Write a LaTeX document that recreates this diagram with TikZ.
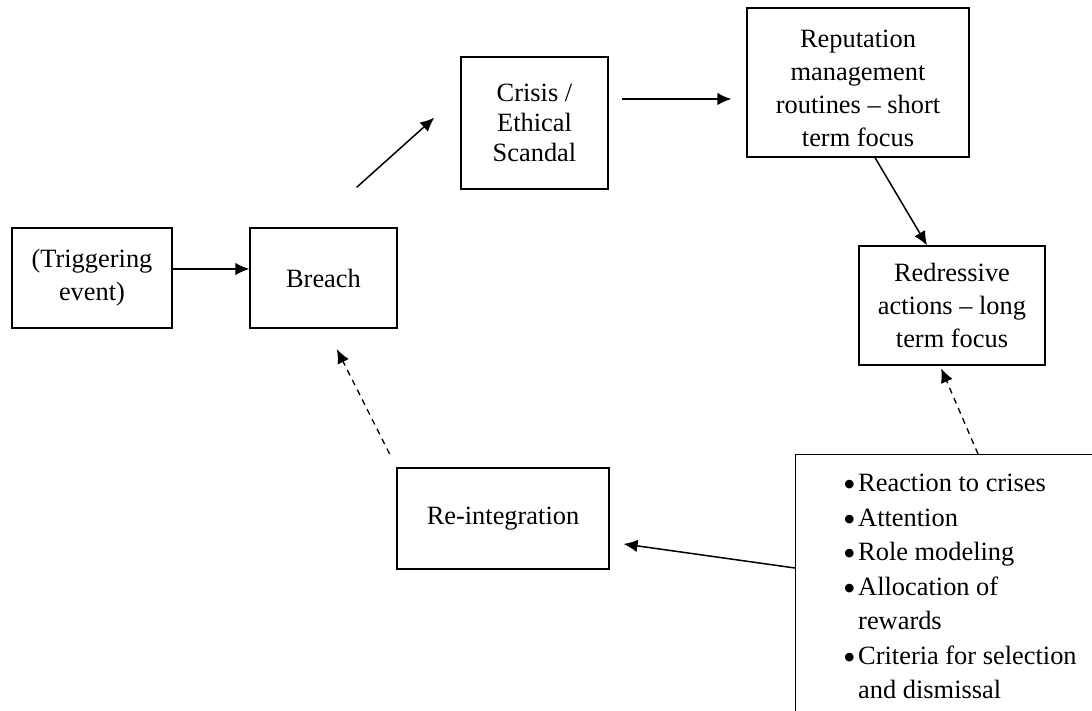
\documentclass[tikz,border=0pt]{standalone}
\usepackage{fontspec}
\setmainfont{Liberation Serif}
\usetikzlibrary{arrows.meta}
\newcommand{\bulitem}{\makebox[15pt][l]{\raisebox{-5pt}{\fontsize{36}{36}\selectfont\textbullet}}}
\begin{document}
\begin{tikzpicture}[x=1pt,y=-1pt,
  box/.style={draw, line width=1.3pt, align=center, inner sep=0pt,
    font=\fontsize{26.4}{33}\selectfont},
  arr/.style={line width=1.5pt, -{Latex[length=14pt,width=12.5pt]}},
  darr/.style={arr, line width=1.3pt, dash pattern=on 6pt off 5pt}]
\useasboundingbox (0,0) rectangle (1092,711);

% process boxes
\node[box, minimum width=160pt, minimum height=100pt] (trig) at (92,278) {(Triggering\\event)};
\node[box, minimum width=147pt, minimum height=100pt] (breach) at (323.5,278) {Breach};
\node[box, minimum width=147pt, minimum height=132pt, font=\fontsize{26.4}{30}\selectfont]
  (crisis) at (534.5,123) {Crisis /\\Ethical\\Scandal};
\node[box, minimum width=222pt, minimum height=149pt] (rep) at (858,82.5)
  {\rule{0pt}{29pt}Reputation\\management\\routines -- short\\term focus};
\node[box, minimum width=186pt, minimum height=119pt] (red) at (952,305.5) {Redressive\\actions -- long\\term focus};
\node[box, minimum width=212pt, minimum height=101pt] (reint) at (503,518.5) {Re-integration};

% leadership mechanisms box, running past the page edges
\node[draw, line width=1.3pt, minimum width=400pt, minimum height=400pt, anchor=north west,
  inner sep=0pt] (bul) at (795,454) {};
\node[anchor=north west, align=left, inner sep=0pt, font=\fontsize{26.4}{34.5}\selectfont]
  (list) at (843,474) {\bulitem Reaction to crises\\
  \bulitem Attention\\
  \bulitem Role modeling\\
  \bulitem Allocation of\\
  \hspace*{15pt}rewards\\
  \bulitem Criteria for selection\\
  \hspace*{15pt}and dismissal};

% solid connectors
\draw[arr] ([yshift=9pt]trig.east) -- ([yshift=9pt]trig.east -| breach.west);
\draw[arr, shorten <=60pt, shorten >=35pt] ([xshift=-11.5pt]breach.north) -- ([yshift=-38pt]crisis.north west);
\draw[arr, shorten <=13pt, shorten >=15pt] ([yshift=24pt]crisis.east) -- ([yshift=24pt]crisis.east -| rep.west);
\draw[arr] ([xshift=17pt]rep.south) -- ([xshift=-25pt]red.north);
\draw[arr, shorten >=14pt] ([yshift=-114pt]bul.north west) -- ([yshift=-23.5pt]reint.east);

% dashed feedback connectors
\draw[darr, shorten >=3pt] ([xshift=183pt]bul.north west) -- ([xshift=-12pt]red.south);
\draw[darr, shorten <=15pt, shorten >=23pt] (reint.north west) -- ([xshift=3pt]breach.south);
\end{tikzpicture}
\end{document}
